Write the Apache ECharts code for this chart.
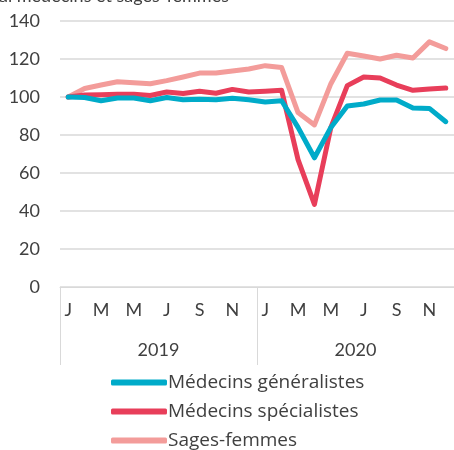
<!DOCTYPE html>
<html>
<head>
<meta charset="utf-8">
<script src="https://cdn.jsdelivr.net/npm/echarts@6/dist/echarts.min.js"></script>
<style>
  html, body { margin: 0; padding: 0; background: #fff; }
  #chart { width: 454px; height: 450px; }
</style>
</head>
<body>
<div id="chart"></div>
<script>
// mois (deux années)
const months = ["J", "F", "M", "A", "M", "J", "J", "A", "S", "O", "N", "D",
                "J", "F", "M", "A", "M", "J", "J", "A", "S", "O", "N", "D"];
const years = ["2019", "2020"];

const generalistes = [100, 99.7, 98, 99.5, 99.5, 98, 99.7, 98.5, 98.8, 98.5, 99.3, 98.5,
                      97.4, 98, 84, 68, 84, 95.3, 96.3, 98.4, 98.4, 94.2, 94, 87];
const specialistes = [100, 101, 101.2, 101.5, 101.5, 100.8, 102.6, 101.8, 103, 102, 104, 102.6,
                      103, 103.5, 67, 43.5, 84, 106, 110.5, 110, 106.3, 103.5, 104.2, 104.7];
const sagesFemmes = [100, 104.5, 106.3, 108, 107.5, 107, 108.6, 110.5, 112.6, 112.6, 113.7, 114.7,
                     116.5, 115.5, 91.8, 85.3, 107, 123, 121.6, 120, 122, 120.5, 129, 125.5];

const txt = "#404040";
const grey = "#d9d9d9";
const font = "Lato";

let mychart = echarts.init(document.getElementById("chart"));
mychart.setOption({
  animation: false,
  textStyle: { fontFamily: font },
  graphic: [{
    type: "text",
    left: -1,
    top: -13,
    style: { text: "al médecins et sages-femmes", fontSize: 18, fontFamily: font, fill: txt }
  }],
  grid: { left: 60, right: -3, top: 21, bottom: 163, containLabel: false },
  legend: {
    orient: "vertical",
    left: 106,
    top: 368,
    height: 140,
    itemWidth: 56,
    itemHeight: 6,
    itemGap: 10,
    icon: "roundRect",
    textStyle: { fontSize: 19, color: txt, fontFamily: "Open Sans", padding: [0, 0, 0, -4] },
    data: ["Médecins généralistes", "Médecins spécialistes", "Sages-femmes"]
  },
  xAxis: [{
    type: "category",
    data: months,
    boundaryGap: true,
    axisLine: { show: true, lineStyle: { color: grey, width: 1 } },
    axisTick: { show: false },
    axisLabel: { interval: 1, color: txt, fontSize: 18, margin: 14, fontFamily: font }
  }, {
    type: "category",
    data: years,
    position: "bottom",
    boundaryGap: true,
    axisLine: { show: false },
    axisTick: { show: true, length: 78, lineStyle: { color: grey, width: 1 } },
    axisLabel: { color: txt, fontSize: 18, margin: 54, fontFamily: font }
  }],
  yAxis: {
    type: "value",
    min: 0,
    max: 140,
    interval: 20,
    axisLine: { show: false },
    axisTick: { show: false },
    axisLabel: { color: txt, fontSize: 18, margin: 20, fontFamily: font },
    splitLine: { lineStyle: { color: grey, width: 1.5 } }
  },
  series: [{
    name: "Médecins généralistes",
    type: "line",
    data: generalistes,
    symbol: "none",
    color: "#00abc9",
    lineStyle: { width: 5, cap: "round", join: "round" },
    z: 4
  }, {
    name: "Médecins spécialistes",
    type: "line",
    data: specialistes,
    symbol: "none",
    color: "#e83e5a",
    lineStyle: { width: 5, cap: "round", join: "round" },
    z: 3
  }, {
    name: "Sages-femmes",
    type: "line",
    data: sagesFemmes,
    symbol: "none",
    color: "#f39c9a",
    lineStyle: { width: 5, cap: "round", join: "round" },
    z: 2
  }]
});
</script>
</body>
</html>
